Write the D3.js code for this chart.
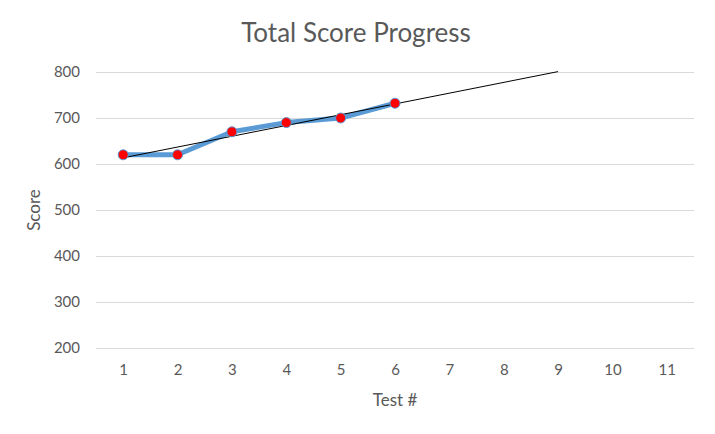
<!DOCTYPE html>
<html>
<head>
<meta charset="utf-8">
<script src="https://cdn.jsdelivr.net/npm/d3@7"></script>
<style>
  body { margin: 0; background: #fff; }
  #chart { width: 715px; height: 434px; }
  .axis text { font-family: Lato, "Open Sans", sans-serif; font-size: 15px; fill: #595959; }
</style>
</head>
<body>
<div id="chart"></div>
<script>
// Values
const tests = ['1', '2', '3', '4', '5', '6', '7', '8', '9', '10', '11'];
const scoreTests = ['1', '2', '3', '4', '5', '6'];
const scores = [620, 620, 670, 690, 700, 732];
const yTicks = [200, 300, 400, 500, 600, 700, 800];
const trendEnd = 9; // trendline forecast runs forward to test 9

const width = 715;
const height = 434;
const margin = { top: 72, right: 21, bottom: 86, left: 96 };
const chartWidth = width - margin.left - margin.right;
const chartHeight = height - margin.top - margin.bottom;

const svg = d3.select('#chart')
  .append('svg')
  .attr('width', width)
  .attr('height', height);

const g = svg.append('g')
  .attr('transform', `translate(${margin.left},${margin.top})`);

const x = d3.scalePoint().domain(tests).range([0, chartWidth]).padding(0.5);
const y = d3.scaleLinear().domain([200, 800]).range([chartHeight, 0]);

// gridlines
g.append('g')
  .call(d3.axisLeft(y).tickValues(yTicks).tickSize(-chartWidth).tickFormat(''))
  .call((a) => a.select('.domain').remove())
  .selectAll('line')
  .attr('stroke', '#d9d9d9')
  .attr('stroke-width', 1);

g.append('g')
  .attr('class', 'axis')
  .call(d3.axisLeft(y).tickValues(yTicks).tickSize(0).tickPadding(16))
  .call((a) => a.select('.domain').remove());

g.append('g')
  .attr('class', 'axis')
  .attr('transform', `translate(0,${chartHeight})`)
  .call(d3.axisBottom(x).tickSize(0).tickPadding(16))
  .call((a) => a.select('.domain').remove());

// series line
const data = scoreTests.map((t, i) => ({ t, v: scores[i] }));

g.append('path')
  .datum(data)
  .attr('fill', 'none')
  .attr('stroke', '#5b9bd5')
  .attr('stroke-width', 5)
  .attr('stroke-linejoin', 'round')
  .attr('d', d3.line().x((d) => x(d.t)).y((d) => y(d.v)));

// linear trendline (least squares on test number)
const xs = data.map((d) => +d.t);
const mx = d3.mean(xs);
const my = d3.mean(scores);
const slope = d3.sum(xs, (xv, i) => (xv - mx) * (scores[i] - my)) / d3.sum(xs, (xv) => (xv - mx) ** 2);
const intercept = my - slope * mx;
const trend = [1, trendEnd].map((n) => ({ t: String(n), v: intercept + slope * n }));

g.append('path')
  .datum(trend)
  .attr('fill', 'none')
  .attr('stroke', '#000')
  .attr('stroke-width', 1)
  .attr('d', d3.line().x((d) => x(d.t)).y((d) => y(d.v)));

g.selectAll('circle.marker')
  .data(data)
  .join('circle')
  .attr('class', 'marker')
  .attr('cx', (d) => x(d.t))
  .attr('cy', (d) => y(d.v))
  .attr('r', 5)
  .attr('fill', '#ff0000')
  .attr('stroke', '#5b9bd5')
  .attr('stroke-width', 1);

// titles
svg.append('text')
  .attr('x', 356)
  .attr('y', 42)
  .attr('text-anchor', 'middle')
  .attr('font-family', 'Lato, "Open Sans", sans-serif')
  .attr('font-size', 26)
  .attr('fill', '#595959')
  .text('Total Score Progress');

svg.append('text')
  .attr('x', margin.left + chartWidth / 2)
  .attr('y', 406)
  .attr('text-anchor', 'middle')
  .attr('font-family', 'Lato, "Open Sans", sans-serif')
  .attr('font-size', 17)
  .attr('fill', '#595959')
  .text('Test #');

svg.append('text')
  .attr('transform', `translate(40,${margin.top + chartHeight / 2}) rotate(-90)`)
  .attr('text-anchor', 'middle')
  .attr('font-family', 'Lato, "Open Sans", sans-serif')
  .attr('font-size', 17)
  .attr('fill', '#595959')
  .text('Score');
</script>
</body>
</html>
